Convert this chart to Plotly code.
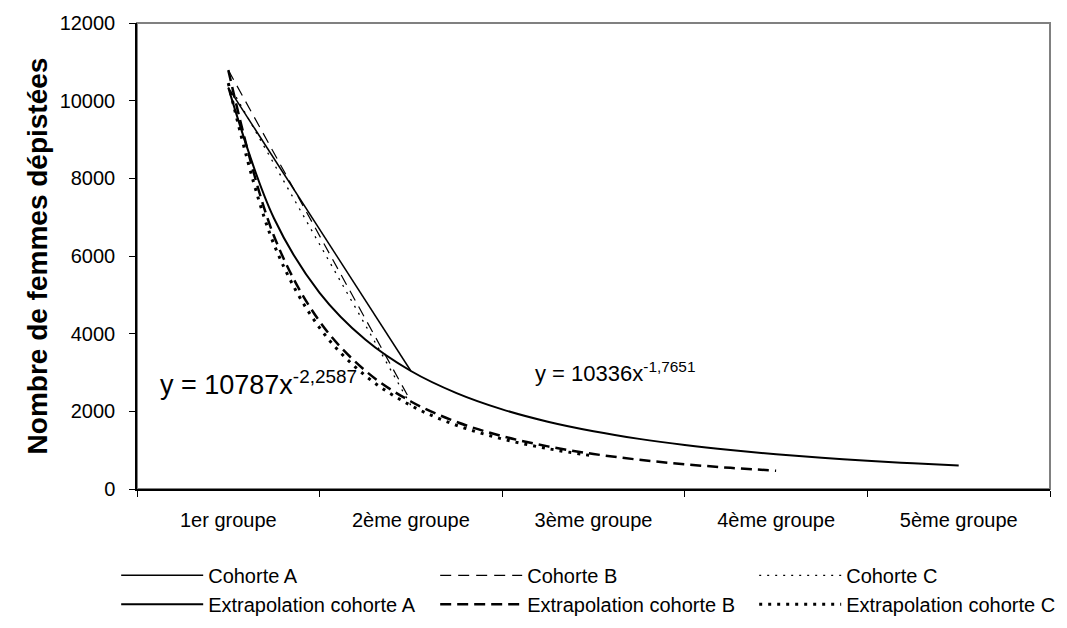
import plotly.graph_objects as go

# ---- data ----
groups = ["1er groupe", "2ème groupe", "3ème groupe", "4ème groupe", "5ème groupe"]
group_pos = [1, 2, 3, 4, 5]
y_ticks = [0, 2000, 4000, 6000, 8000, 10000, 12000]

cohort_x = [1, 2]
cohorte_a = [10336, 3039]
cohorte_b = [10787, 2254]
cohorte_c = [10450, 2150]

ext_a_x = [1, 1.25, 1.5, 1.75, 2, 2.25, 2.5, 2.75, 3, 3.25, 3.5, 3.75, 4, 4.25, 4.5, 4.75, 5]
ext_a_y = [10336, 6972, 5053, 3849, 3039, 2470, 2051, 1733, 1487, 1291, 1132, 1002, 894, 804, 726, 660, 603]

ext_b_x = [1, 1.25, 1.5, 1.75, 2, 2.25, 2.5, 2.75, 3, 3.25, 3.5, 3.75, 4]
ext_b_y = [10787, 6516, 4317, 3048, 2254, 1728, 1362, 1098, 902, 753, 637, 545, 471]

ext_c_x = [1, 1.25, 1.5, 1.75, 2, 2.25, 2.5, 2.75, 3]
ext_c_y = [10450, 6300, 4150, 2920, 2150, 1640, 1290, 1040, 850]

eq_a_text = "y = 10336x<sup>-1,7651</sup>"
eq_b_text = "y = 10787x<sup>-2,2587</sup>"

FONT = "Liberation Sans, Arial, sans-serif"

fig = go.Figure()

fig.add_trace(go.Scatter(x=cohort_x, y=cohorte_a, mode="lines", name="Cohorte A",
                         line=dict(color="black", width=1.5)))
fig.add_trace(go.Scatter(x=cohort_x, y=cohorte_b, mode="lines", name="Cohorte B",
                         line=dict(color="black", width=1.2, dash="11px,7px")))
fig.add_trace(go.Scatter(x=cohort_x, y=cohorte_c, mode="lines", name="Cohorte C",
                         line=dict(color="black", width=1.3, dash="2px,6px")))
fig.add_trace(go.Scatter(x=ext_a_x, y=ext_a_y, mode="lines", name="Extrapolation cohorte A",
                         line=dict(color="black", width=2, shape="spline")))
fig.add_trace(go.Scatter(x=ext_b_x, y=ext_b_y, mode="lines", name="Extrapolation cohorte B",
                         line=dict(color="black", width=2.5, dash="11px,6px", shape="spline")))
fig.add_trace(go.Scatter(x=ext_c_x, y=ext_c_y, mode="lines", name="Extrapolation cohorte C",
                         line=dict(color="black", width=3, dash="3px,6px", shape="spline")))

fig.add_annotation(x=0.617, y=2732, xref="x", yref="y", text=eq_b_text, showarrow=False,
                   xanchor="left", yanchor="middle", font=dict(family=FONT, size=27, color="black"))
fig.add_annotation(x=2.67, y=3015, xref="x", yref="y", text=eq_a_text, showarrow=False,
                   xanchor="left", yanchor="middle", font=dict(family=FONT, size=22, color="black"))

# plot-area border (grey, top & right visible)
fig.add_shape(type="rect", xref="paper", yref="paper", x0=0, y0=0, x1=1, y1=1,
              line=dict(color="#808080", width=2), layer="below")

fig.update_layout(
    width=1051, height=612,
    margin=dict(l=129, r=9, t=15, b=131, autoexpand=False),
    paper_bgcolor="white", plot_bgcolor="white",
    font=dict(family=FONT, size=20, color="black"),
    showlegend=True,
    legend=dict(orientation="h", x=-0.0228, xanchor="left", y=-0.1435, yanchor="top",
                entrywidth=222, entrywidthmode="pixels", itemwidth=82,
                font=dict(family=FONT, size=20, color="black"), traceorder="normal"),
    xaxis=dict(range=[0.5, 5.5], tickvals=group_pos, ticktext=groups, ticks="",
               showgrid=False, zeroline=False, showline=True, linecolor="black", linewidth=1.5,
               automargin=False,
               tickfont=dict(family=FONT, size=20), ticklabelstandoff=12,
               minor=dict(tickvals=[0.5, 1.5, 2.5, 3.5, 4.5, 5.5], ticks="outside",
                          ticklen=6, tickcolor="black", tickwidth=1, showgrid=False)),
    yaxis=dict(range=[0, 12000], tickvals=y_ticks, ticktext=[str(v) for v in y_ticks],
               ticks="outside", ticklen=6, tickcolor="black", showgrid=False, zeroline=False,
               showline=True, linecolor="black", linewidth=1.5, automargin=False,
               tickfont=dict(family=FONT, size=20), ticklabelstandoff=10,
               title=dict(text="<b>Nombre de femmes dépistées</b>", standoff=4,
                          font=dict(family=FONT, size=28, color="black"))),
)

fig.write_html("out.html")
